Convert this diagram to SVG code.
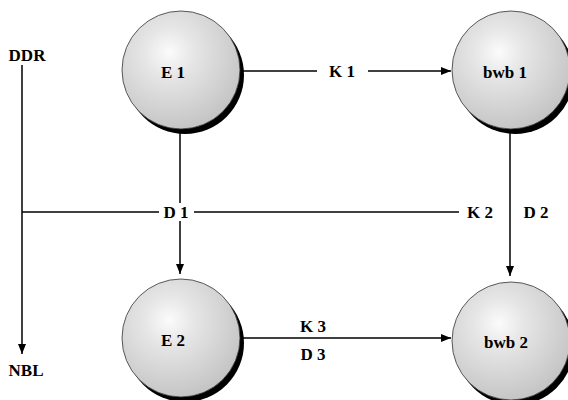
<svg xmlns="http://www.w3.org/2000/svg" width="568" height="400" viewBox="0 0 568 400">
<defs>
<radialGradient id="ball" cx="0.4" cy="0.35" r="0.7">
<stop offset="0" stop-color="#fbfbfb"/>
<stop offset="0.3" stop-color="#e6e6e6"/>
<stop offset="1" stop-color="#c2c2c2"/>
</radialGradient>
<marker id="arr" viewBox="0 0 10 10" refX="10" refY="5" markerWidth="10" markerHeight="10" markerUnits="userSpaceOnUse" orient="auto">
<path d="M0,1 L10,5 L0,9 Z" fill="#000"/>
</marker>
</defs>
<style>
.t{font-family:"Liberation Serif","Times New Roman",serif;font-weight:bold;font-size:17px;fill:#000;text-anchor:middle;dominant-baseline:central}
.c{stroke:#000;stroke-width:1.5;fill:none}
.shadow{fill:#000}
.ball{fill:url(#ball);stroke:#333;stroke-width:0.8}
</style>
<g id="connectors">
<line class="c" x1="242" y1="71" x2="317" y2="71"/>
<line class="c" x1="368" y1="71" x2="451" y2="71" marker-end="url(#arr)"/>
<line class="c" x1="180" y1="131" x2="180" y2="274" marker-end="url(#arr)"/>
<line class="c" x1="510" y1="131" x2="510" y2="276" marker-end="url(#arr)"/>
<line class="c" x1="22" y1="65" x2="22" y2="354" marker-end="url(#arr)"/>
<line class="c" x1="22" y1="212" x2="460" y2="212"/>
<line class="c" x1="242" y1="338" x2="451" y2="338" marker-end="url(#arr)"/>
<rect x="159" y="203" width="35" height="18" fill="#fff"/>
<rect x="459" y="203" width="42" height="18" fill="#fff"/>
<text class="t" x="176" y="212">D 1</text>
<text class="t" x="480" y="212">K 2</text>
<text class="t" x="536" y="212">D 2</text>
<text class="t" x="342" y="71">K 1</text>
<text class="t" x="313" y="326">K 3</text>
<text class="t" x="313" y="354">D 3</text>
<text class="t" x="27" y="55">DDR</text>
<text class="t" x="26" y="370">NBL</text>
</g>
<g id="E1">
<circle class="shadow" cx="185" cy="75" r="59"/>
<circle class="ball" cx="181" cy="70" r="59"/>
<text class="t" x="173" y="72">E 1</text>
</g>
<g id="bwb1">
<circle class="shadow" cx="515" cy="75" r="59"/>
<circle class="ball" cx="511" cy="70" r="59"/>
<text class="t" x="505" y="72">bwb 1</text>
</g>
<g id="E2">
<circle class="shadow" cx="185" cy="343" r="59"/>
<circle class="ball" cx="181" cy="338" r="59"/>
<text class="t" x="173" y="340">E 2</text>
</g>
<g id="bwb2">
<circle class="shadow" cx="515" cy="346" r="59"/>
<circle class="ball" cx="511" cy="341" r="59"/>
<text class="t" x="506" y="342">bwb 2</text>
</g>
</svg>
